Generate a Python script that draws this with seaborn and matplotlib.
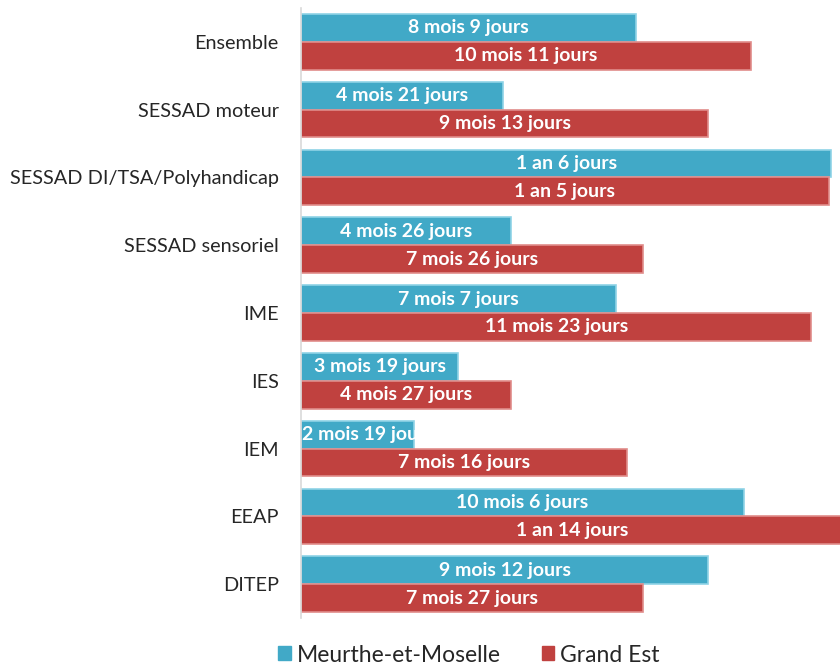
import pandas as pd
import seaborn as sns
import matplotlib.pyplot as plt

categories = ['Ensemble', 'SESSAD moteur', 'SESSAD DI/TSA/Polyhandicap', 'SESSAD sensoriel',
              'IME', 'IES', 'IEM', 'EEAP', 'DITEP']
series = ['Meurthe-et-Moselle', 'Grand Est']

meurthe_days = [234, 141, 371, 147, 220, 110, 79, 310, 285]
grandest_days = [315, 285, 369, 239, 357, 147, 228, 379, 239]

meurthe_labels = ['8 mois 9 jours', '4 mois 21 jours', '1 an 6 jours', '4 mois 26 jours',
                  '7 mois 7 jours', '3 mois 19 jours', '2 mois 19 jours', '10 mois 6 jours',
                  '9 mois 12 jours']
grandest_labels = ['10 mois 11 jours', '9 mois 13 jours', '1 an 5 jours', '7 mois 26 jours',
                   '11 mois 23 jours', '4 mois 27 jours', '7 mois 16 jours', '1 an 14 jours',
                   '7 mois 27 jours']

df = pd.DataFrame({
    'cat': categories * 2,
    'days': meurthe_days + grandest_days,
    'serie': [series[0]] * len(categories) + [series[1]] * len(categories),
})

colors = {'Meurthe-et-Moselle': '#41A9C7', 'Grand Est': '#C0413F'}
edges = {'Meurthe-et-Moselle': '#8FD3E6', 'Grand Est': '#E08C8A'}

sns.set_theme(style='white')
plt.rcParams['font.family'] = ['Lato', 'DejaVu Sans']

fig = plt.figure(figsize=(8.4, 6.68), dpi=100)
ax = fig.add_axes([301 / 840, 1 - 618 / 668, 1 - 301 / 840, 610 / 668])

sns.barplot(data=df, y='cat', x='days', hue='serie', palette=colors, orient='h',
            width=0.82, gap=0, ax=ax, legend=False, saturation=1)

ax.set_xlim(0, 377)
ax.set_ylim(len(categories) - 0.5, -0.5)

fig.canvas.draw()
renderer = fig.canvas.get_renderer()

all_labels = [meurthe_labels, grandest_labels]
for cont, name, labs in zip(ax.containers, series, all_labels):
    for bar, lab in zip(cont, labs):
        bar.set_edgecolor(edges[name])
        bar.set_linewidth(1.2)
        x0, y0 = bar.get_x(), bar.get_y()
        w, h = bar.get_width(), bar.get_height()
        t = ax.text(x0 + w / 2, y0 + h / 2, lab, ha='center', va='center',
                    color='white', fontsize=14, fontweight='bold')
        # texte trop long -> aligné à gauche et coupé par la barre
        tw = t.get_window_extent(renderer).width
        bw = bar.get_window_extent(renderer).width
        if tw > bw:
            t.set_x(x0 + 1)
            t.set_ha('left')
        t.set_clip_path(bar)

ax.set_xlabel('')
ax.set_ylabel('')
ax.set_xticks([])
ax.tick_params(axis='y', length=0, labelsize=14.3, labelcolor='#262626', pad=16)
for s in ['top', 'right', 'bottom']:
    ax.spines[s].set_visible(False)
ax.spines['left'].set_color('#D9D9D9')
ax.spines['left'].set_linewidth(1.2)

handles = [plt.Rectangle((0, 0), 1, 1, color=colors[s]) for s in series]
fig.legend(handles, series, loc='center', bbox_to_anchor=(469 / 840, 1 - 655 / 668),
           ncol=2, frameon=False, fontsize=16.5, handlelength=0.55, handleheight=0.55,
           handletextpad=0.25, columnspacing=1.8, labelcolor='#262626')

fig.savefig('out.png', dpi=100)
